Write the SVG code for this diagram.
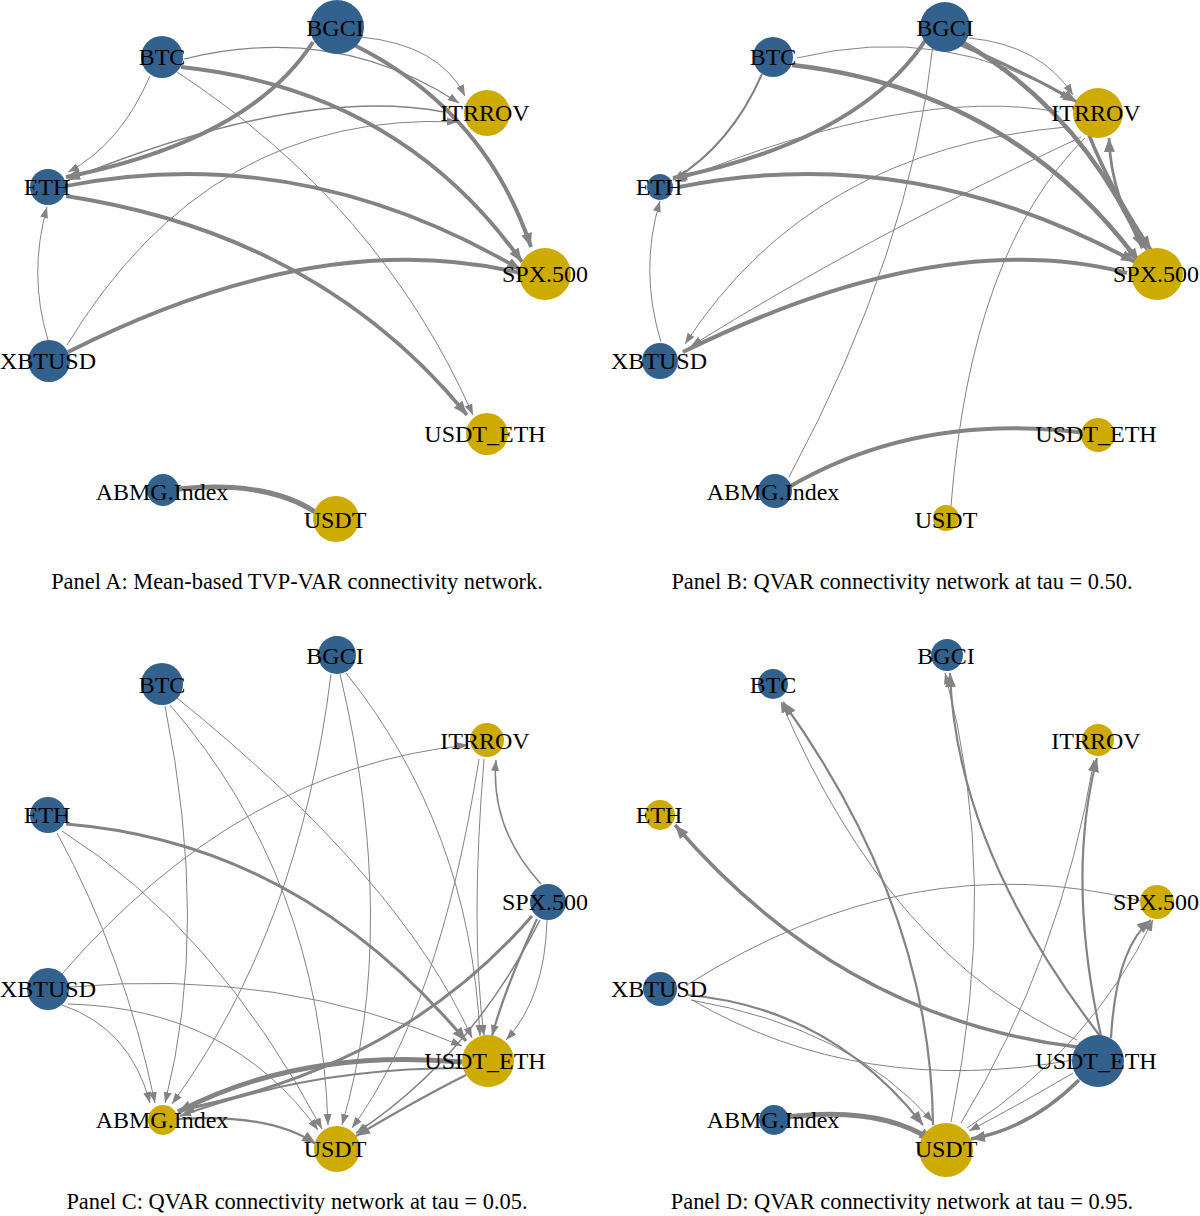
<svg xmlns="http://www.w3.org/2000/svg" width="1200" height="1216" viewBox="0 0 1200 1216">
<style>
.e{fill:none;stroke:#838383;stroke-linecap:butt}
.a{marker-end:url(#ar)}
.A{marker-end:url(#arL)}
.blue{fill:#31618c}
.gold{fill:#cdab00}
.lbl{font-family:"Liberation Serif","Times New Roman",serif;font-size:24px;text-anchor:middle;fill:#000}
.cap{font-family:"Liberation Serif","Times New Roman",serif;font-size:22.4px;text-anchor:middle;fill:#000}
</style>
<defs>
<marker id="ar" markerUnits="userSpaceOnUse" markerWidth="12" markerHeight="9" refX="11" refY="4" orient="auto"><path d="M0,0 L11,4 L0,8 z" fill="#838383"/></marker>
<marker id="arL" markerUnits="userSpaceOnUse" markerWidth="15" markerHeight="12" refX="14" refY="5.5" orient="auto"><path d="M0,0 L14,5.5 L0,11 z" fill="#838383"/></marker>
</defs>
<rect width="1200" height="1216" fill="#fff"/>

<!-- Panel A -->
<g id="panelA">
<g id="A-connectors">
<path class="e a" stroke-width="1" d="M361,37 Q440,45 465,96"/>
<path class="e A" stroke-width="4" d="M354,45 Q485,110 531,247"/>
<path class="e A" stroke-width="4" d="M313,42 Q250,140 66,177"/>
<path class="e a" stroke-width="1.2" d="M184,59 Q335,22 459,103"/>
<path class="e A" stroke-width="3.8" d="M181,67 Q400,90 522,262"/>
<path class="e a" stroke-width="1" d="M150,76 Q120,145 68,172"/>
<path class="e a" stroke-width="1" d="M177,72 Q380,205 473,415"/>
<path class="e a" stroke-width="1.5" d="M444,112 Q300,85 68,180"/>
<path class="e a" stroke-width="1" d="M67,345 Q210,110 458,122"/>
<path class="e A" stroke-width="3.8" d="M66,186 Q300,140 521,270"/>
<path class="e A" stroke-width="3.8" d="M66,196 Q320,235 467,415"/>
<path class="e a" stroke-width="1" d="M48,340 Q28,275 47,207"/>
<path class="e" stroke-width="4" d="M520,273 Q320,225 68,352"/>
<path class="e" stroke-width="5" d="M179,489 Q270,480 318,514"/>
</g>
<g id="A-BGCI"><circle class="blue" cx="337" cy="27" r="27"/><text class="lbl" x="335" y="36">BGCI</text></g>
<g id="A-BTC"><circle class="blue" cx="162" cy="57" r="21"/><text class="lbl" x="162" y="65">BTC</text></g>
<g id="A-ITRROV"><circle class="gold" cx="487" cy="113" r="23"/><text class="lbl" x="485" y="121">ITRROV</text></g>
<g id="A-ETH"><circle class="blue" cx="48" cy="187" r="18"/><text class="lbl" x="47" y="195">ETH</text></g>
<g id="A-SPX"><circle class="gold" cx="545" cy="274" r="26"/><text class="lbl" x="545" y="282">SPX.500</text></g>
<g id="A-XBTUSD"><circle class="blue" cx="49" cy="361" r="21"/><text class="lbl" x="48" y="369">XBTUSD</text></g>
<g id="A-USDT_ETH"><circle class="gold" cx="487" cy="434" r="21"/><text class="lbl" x="485" y="442">USDT_ETH</text></g>
<g id="A-ABMG"><circle class="blue" cx="163" cy="490" r="16"/><text class="lbl" x="162" y="500">ABMG.Index</text></g>
<g id="A-USDT"><circle class="gold" cx="336" cy="519" r="23"/><text class="lbl" x="335" y="528">USDT</text></g>
<text class="cap" x="297" y="589">Panel A: Mean-based TVP-VAR connectivity network.</text>
</g>

<!-- Panel B -->
<g id="panelB" transform="translate(611,0)">
<g id="B-connectors">
<path class="e a" stroke-width="1" d="M358,38 Q430,45 462,95"/>
<path class="e A" stroke-width="3" d="M350,45 Q420,75 466,102"/>
<path class="e A" stroke-width="4.5" d="M351,42 Q470,110 532,248"/>
<path class="e A" stroke-width="4" d="M316,38 Q250,140 62,178"/>
<path class="e" stroke-width="1" d="M322,45 Q300,250 178,477"/>
<path class="e a" stroke-width="1" d="M186,58 Q335,22 460,100"/>
<path class="e A" stroke-width="4.5" d="M181,65 Q400,90 528,262"/>
<path class="e a" stroke-width="2" d="M151,74 Q120,145 62,180"/>
<path class="e a" stroke-width="1" d="M448,112 Q300,85 64,182"/>
<path class="e a" stroke-width="1" d="M455,127 Q200,150 74,344"/>
<path class="e a" stroke-width="1" d="M470,137 Q250,240 80,346"/>
<path class="e A" stroke-width="4" d="M68,187 Q300,140 524,262"/>
<path class="e" stroke-width="4" d="M516,273 Q330,225 72,352"/>
<path class="e a" stroke-width="1" d="M50,342 Q28,270 49,201"/>
<path class="e A" stroke-width="2.8" d="M536,250 Q500,200 498,138"/>
<path class="e A" stroke-width="3.5" d="M478,135 Q500,190 540,250"/>
<path class="e" stroke-width="1" d="M474,138 Q360,250 340,506"/>
<path class="e" stroke-width="4" d="M178,487 Q310,410 482,434"/>
</g>
<g id="B-BGCI"><circle class="blue" cx="334" cy="27" r="25"/><text class="lbl" x="334" y="36">BGCI</text></g>
<g id="B-BTC"><circle class="blue" cx="162" cy="57" r="20"/><text class="lbl" x="162" y="65">BTC</text></g>
<g id="B-ITRROV"><circle class="gold" cx="487" cy="113" r="25"/><text class="lbl" x="485" y="121">ITRROV</text></g>
<g id="B-ETH"><circle class="blue" cx="49" cy="187" r="13"/><text class="lbl" x="48" y="195">ETH</text></g>
<g id="B-SPX"><circle class="gold" cx="546" cy="274" r="26"/><text class="lbl" x="545" y="282">SPX.500</text></g>
<g id="B-XBTUSD"><circle class="blue" cx="49" cy="361" r="18"/><text class="lbl" x="48" y="369">XBTUSD</text></g>
<g id="B-USDT_ETH"><circle class="gold" cx="487" cy="435" r="17"/><text class="lbl" x="485" y="442">USDT_ETH</text></g>
<g id="B-ABMG"><circle class="blue" cx="164" cy="491" r="17"/><text class="lbl" x="162" y="500">ABMG.Index</text></g>
<g id="B-USDT"><circle class="gold" cx="335" cy="518" r="13"/><text class="lbl" x="335" y="528">USDT</text></g>
</g>
<text class="cap" x="902" y="589">Panel B: QVAR connectivity network at tau = 0.50.</text>

<!-- Panel C -->
<g id="panelC" transform="translate(0,628)">
<g id="C-connectors">
<path class="e A" stroke-width="3" d="M66,196 Q300,215 466,413"/>
<path class="e a" stroke-width="1" d="M57,205 Q125,330 155,475"/>
<path class="e a" stroke-width="1" d="M62,203 Q215,300 322,501"/>
<path class="e a" stroke-width="1" d="M165,78 Q210,300 165,475"/>
<path class="e a" stroke-width="1" d="M170,77 Q320,250 328,497"/>
<path class="e a" stroke-width="1" d="M177,70 Q400,250 472,410"/>
<path class="e a" stroke-width="1" d="M331,46 Q300,300 172,476"/>
<path class="e a" stroke-width="1" d="M340,46 Q400,300 342,497"/>
<path class="e a" stroke-width="1" d="M346,45 Q470,200 480,408"/>
<path class="e a" stroke-width="1" d="M484,131 Q470,300 484,408"/>
<path class="e a" stroke-width="1" d="M479,131 Q440,380 352,500"/>
<path class="e a" stroke-width="1.5" d="M541,256 Q490,200 496,132"/>
<path class="e A" stroke-width="3" d="M532,288 Q400,440 180,482"/>
<path class="e a" stroke-width="2.2" d="M537,291 Q505,360 492,408"/>
<path class="e a" stroke-width="1.5" d="M540,292 Q470,430 356,505"/>
<path class="e a" stroke-width="1" d="M547,292 Q545,370 506,412"/>
<path class="e a" stroke-width="1" d="M62,377 Q130,400 150,475"/>
<path class="e a" stroke-width="1" d="M68,376 Q230,380 318,502"/>
<path class="e a" stroke-width="1" d="M70,359 Q280,340 462,418"/>
<path class="e a" stroke-width="1" d="M62,346 Q240,140 468,117"/>
<path class="e A" stroke-width="5" d="M462,434 Q300,420 178,484"/>
<path class="e a" stroke-width="2.2" d="M462,440 Q310,440 180,488"/>
<path class="e A" stroke-width="2.2" d="M466,447 Q420,470 356,508"/>
<path class="e A" stroke-width="2.2" d="M178,491 Q270,485 316,516"/>
</g>
<g id="C-BGCI"><circle class="blue" cx="337" cy="27" r="19"/><text class="lbl" x="335" y="36">BGCI</text></g>
<g id="C-BTC"><circle class="blue" cx="162" cy="56" r="21"/><text class="lbl" x="162" y="65">BTC</text></g>
<g id="C-ITRROV"><circle class="gold" cx="487" cy="112" r="17"/><text class="lbl" x="485" y="121">ITRROV</text></g>
<g id="C-ETH"><circle class="blue" cx="48" cy="187" r="18"/><text class="lbl" x="47" y="195">ETH</text></g>
<g id="C-SPX"><circle class="blue" cx="548" cy="274" r="18"/><text class="lbl" x="545" y="282">SPX.500</text></g>
<g id="C-XBTUSD"><circle class="blue" cx="48" cy="361" r="21"/><text class="lbl" x="48" y="369">XBTUSD</text></g>
<g id="C-USDT_ETH"><circle class="gold" cx="488" cy="433" r="26"/><text class="lbl" x="485" y="441">USDT_ETH</text></g>
<g id="C-ABMG"><circle class="gold" cx="163" cy="492" r="15"/><text class="lbl" x="162" y="500">ABMG.Index</text></g>
<g id="C-USDT"><circle class="gold" cx="337" cy="521" r="23"/><text class="lbl" x="335" y="529">USDT</text></g>
</g>
<text class="cap" x="297" y="1209">Panel C: QVAR connectivity network at tau = 0.05.</text>

<!-- Panel D -->
<g id="panelD" transform="translate(611,628)">
<g id="D-connectors">
<path class="e A" stroke-width="3.5" d="M466,419 Q230,390 64,197"/>
<path class="e A" stroke-width="2.2" d="M322,497 Q320,281 172,74"/>
<path class="e a" stroke-width="1" d="M466,412 Q280,330 170,74"/>
<path class="e A" stroke-width="2.2" d="M489,408 Q345,220 339,45"/>
<path class="e a" stroke-width="1" d="M340,494 Q390,250 334,45"/>
<path class="e A" stroke-width="2.2" d="M490,408 Q455,250 486,130"/>
<path class="e a" stroke-width="1" d="M350,495 Q450,330 483,132"/>
<path class="e A" stroke-width="2.2" d="M500,410 Q505,320 540,292"/>
<path class="e a" stroke-width="1" d="M356,500 Q480,420 542,292"/>
<path class="e" stroke-width="1" d="M530,273 Q300,215 76,357"/>
<path class="e A" stroke-width="2.2" d="M77,367 Q220,380 312,497"/>
<path class="e a" stroke-width="1" d="M80,372 Q240,400 322,494"/>
<path class="e" stroke-width="1" d="M81,372 Q250,470 462,432"/>
<path class="e A" stroke-width="5" d="M177,489 Q270,478 322,513"/>
<path class="e A" stroke-width="3.5" d="M468,452 Q420,500 360,511"/>
<path class="e a" stroke-width="1" d="M462,445 Q420,470 358,503"/>
</g>
<g id="D-BGCI"><circle class="blue" cx="336" cy="27" r="16"/><text class="lbl" x="335" y="36">BGCI</text></g>
<g id="D-BTC"><circle class="blue" cx="162" cy="56" r="15"/><text class="lbl" x="162" y="65">BTC</text></g>
<g id="D-ITRROV"><circle class="gold" cx="487" cy="112" r="16"/><text class="lbl" x="485" y="121">ITRROV</text></g>
<g id="D-ETH"><circle class="gold" cx="49" cy="187" r="15"/><text class="lbl" x="48" y="195">ETH</text></g>
<g id="D-SPX"><circle class="gold" cx="546" cy="274" r="17"/><text class="lbl" x="545" y="282">SPX.500</text></g>
<g id="D-XBTUSD"><circle class="blue" cx="49" cy="361" r="17"/><text class="lbl" x="48" y="369">XBTUSD</text></g>
<g id="D-USDT_ETH"><circle class="blue" cx="487" cy="433" r="26"/><text class="lbl" x="485" y="441">USDT_ETH</text></g>
<g id="D-ABMG"><circle class="blue" cx="163" cy="492" r="15"/><text class="lbl" x="162" y="500">ABMG.Index</text></g>
<g id="D-USDT"><circle class="gold" cx="335" cy="522" r="27"/><text class="lbl" x="335" y="529">USDT</text></g>
</g>
<text class="cap" x="902" y="1209">Panel D: QVAR connectivity network at tau = 0.95.</text>
</svg>
